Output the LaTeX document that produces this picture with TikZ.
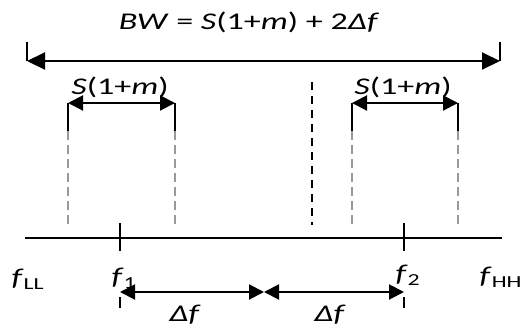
\documentclass[tikz,border=0pt]{standalone}
\usepackage{fontspec}
\setmainfont{Carlito}
\usetikzlibrary{arrows.meta}
\newcommand{\Dlt}{\symbol{"0394}}
\begin{document}
\begin{tikzpicture}[x=1pt,y=-1pt,
  lbl/.style={font=\fontsize{24}{28}\selectfont, xscale=1.42, inner sep=0pt},
  bigarrow/.style={line width=2pt, {Triangle[length=18pt,width=17pt]}-{Triangle[length=18pt,width=17pt]}},
  smallarrow/.style={line width=2pt, {Triangle[length=15pt,width=15pt]}-{Triangle[length=15pt,width=15pt]}},
  guide/.style={draw=gray!80, line width=2pt, dash pattern=on 9pt off 5pt},
  solidv/.style={line width=1.6pt},
  ctr/.style={line width=1.3pt, dash pattern=on 8pt off 6pt},
  axis/.style={line width=1.6pt},
]
\useasboundingbox (0,0) rectangle (521,330);
% top bandwidth arrow
\node[lbl] (title) at (249,22) {\textit{BW} = \textit{S}(1+\textit{m}) + 2\textit{\Dlt f}};
\coordinate (TL) at (27,61); \coordinate (TR) at (500,61);
\coordinate (TLt) at (27,42); \coordinate (TRt) at (500,42);
\draw[solidv] (TLt) -- (TL);
\draw[solidv] (TRt) -- (TR);
\draw[bigarrow] (TL) -- (TR);
% left block
\coordinate (A1) at (68,103); \coordinate (A1b) at (68,131); \coordinate (A1e) at (68,225);
\coordinate (A2) at (175,103); \coordinate (A2b) at (175,131); \coordinate (A2e) at (175,225);
\draw[solidv] (A1) -- (A1b); \draw[guide] (A1b) -- (A1e);
\draw[solidv] (A2) -- (A2b); \draw[guide] (A2b) -- (A2e);
\draw[smallarrow] (A1) -- (A2);
\node[lbl] (sL) at (120,87) {\textit{S}(1+\textit{m})};
% right block
\coordinate (B1) at (352,103); \coordinate (B1b) at (352,131); \coordinate (B1e) at (352,225);
\coordinate (B2) at (458,103); \coordinate (B2b) at (458,131); \coordinate (B2e) at (458,225);
\draw[solidv] (B1) -- (B1b); \draw[guide] (B1b) -- (B1e);
\draw[solidv] (B2) -- (B2b); \draw[guide] (B2b) -- (B2e);
\draw[smallarrow] (B1) -- (B2);
\node[lbl] (sR) at (403,87) {\textit{S}(1+\textit{m})};
% centre line
\coordinate (C1) at (312,82); \coordinate (C2) at (312,225);
\draw[ctr] (C1) -- (C2);
% axis
\coordinate (X1) at (25,238); \coordinate (X2) at (502,238);
\draw[axis] (X1) -- (X2);
\coordinate (F1t) at (120,223); \coordinate (F1b) at (120,251);
\coordinate (F2t) at (404,223); \coordinate (F2b) at (404,251);
\draw[axis] (F1t) -- (F1b);
\draw[axis] (F2t) -- (F2b);
\coordinate (G1t) at (120,297); \coordinate (G1b) at (120,308);
\coordinate (G2t) at (404,297); \coordinate (G2b) at (404,308);
\draw[solidv] (G1t) -- (G1b);
\draw[solidv] (G2t) -- (G2b);
% delta f arrows
\coordinate (D1) at (120,292); \coordinate (DM) at (264,292); \coordinate (D2) at (404,292);
\draw[smallarrow] (D1) -- (DM);
\draw[smallarrow] (DM) -- (D2);
% labels
\node[lbl] (fLL) at (28,279) {\textit{f}\textsubscript{LL}};
\node[lbl] (f1) at (124,278) {\textit{f}\textsubscript{1}};
\node[lbl] (f2) at (408,275) {\textit{f}\textsubscript{2}};
\node[lbl] (fHH) at (501,277) {\textit{f}\textsubscript{HH}};
\node[lbl] (d1) at (185,315) {\textit{\Dlt f}};
\node[lbl] (d2) at (330,315) {\textit{\Dlt f}};
\end{tikzpicture}
\end{document}
